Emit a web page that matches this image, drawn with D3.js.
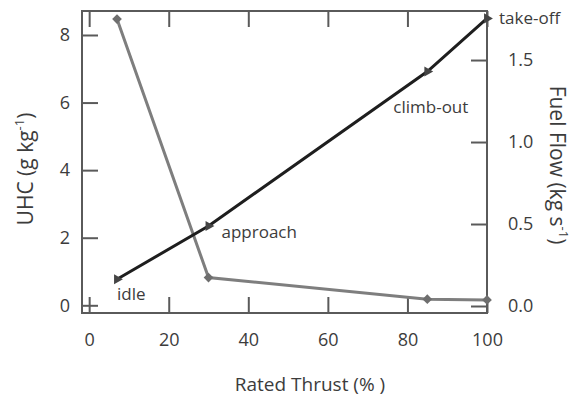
<!DOCTYPE html>
<html>
<head>
<meta charset="utf-8">
<script src="https://cdn.jsdelivr.net/npm/d3@7"></script>
<style>
  body { margin: 0; background: #fff; }
  text { font-family: "Open Sans", "Noto Sans", sans-serif; fill: #3c3c3c; }
</style>
</head>
<body>
<div id="chart"></div>
<script>
// engine operating modes (ICAO LTO cycle)
var phases = ["idle", "approach", "climb-out", "take-off"];
var thrust = [7, 30, 85, 100];          // rated thrust, %
var uhc = [8.47, 0.82, 0.18, 0.16];      // g/kg, left axis
var fuelFlow = [0.163, 0.488, 1.43, 1.754]; // kg/s, right axis

var xTicks = [0, 20, 40, 60, 80, 100];
var uhcTicks = [0, 2, 4, 6, 8];
var ffTicks = [0, 0.5, 1.0, 1.5];

var width = 572, height = 398;
// plot frame (note: "top" is reserved on window)
var plotL = 82, plotR = 487, plotT = 11, plotB = 313;

var svg = d3.select("#chart").append("svg")
  .attr("width", width)
  .attr("height", height);

var x = d3.scaleLinear().domain([-1.8, 100]).range([plotL, plotR]);
var yL = d3.scaleLinear().domain([-0.228, 8.71]).range([plotB, plotT]);
var yR = d3.scaleLinear().domain([-0.0427, 1.799]).range([plotB, plotT]);

var frameColor = "#5a5a5a";

// axes, ticks point into the plot
function styleAxis(g) {
  g.select(".domain").remove();
  g.selectAll(".tick line").attr("stroke", frameColor).attr("stroke-width", 2);
  g.selectAll(".tick text").style("font-size", "18px").attr("fill", "#3c3c3c");
}

svg.append("g")
  .attr("transform", "translate(0," + plotB + ")")
  .call(d3.axisBottom(x).tickValues(xTicks).tickSize(-16).tickPadding(20))
  .call(styleAxis);

svg.append("g")
  .attr("transform", "translate(0," + plotT + ")")
  .call(d3.axisTop(x).tickValues(xTicks).tickSize(-16).tickFormat(""))
  .call(styleAxis);

svg.append("g")
  .attr("transform", "translate(" + plotL + ",0)")
  .call(d3.axisLeft(yL).tickValues(uhcTicks).tickSize(-16).tickPadding(12))
  .call(styleAxis);

svg.append("g")
  .attr("transform", "translate(" + plotR + ",0)")
  .call(d3.axisRight(yR).tickValues(ffTicks).tickSize(-16).tickPadding(21)
    .tickFormat(d3.format(".1f")))
  .call(styleAxis);

// frame
svg.append("rect")
  .attr("x", plotL).attr("y", plotT)
  .attr("width", plotR - plotL).attr("height", plotB - plotT)
  .attr("fill", "none")
  .attr("stroke", frameColor)
  .attr("stroke-width", 2);

var idx = d3.range(phases.length);

// UHC line (grey)
svg.append("path")
  .datum(idx)
  .attr("fill", "none")
  .attr("stroke", "#7e7e7e")
  .attr("stroke-width", 3)
  .attr("d", d3.line().x(i => x(thrust[i])).y(i => yL(uhc[i])));

svg.append("g").selectAll("path")
  .data(idx)
  .enter().append("path")
  .attr("d", d3.symbol().type(d3.symbolDiamond2).size(60))
  .attr("transform", i => "translate(" + x(thrust[i]) + "," + yL(uhc[i]) + ")")
  .attr("fill", "#6e6e6e");

// fuel flow line (black)
svg.append("path")
  .datum(idx)
  .attr("fill", "none")
  .attr("stroke", "#1e1e1e")
  .attr("stroke-width", 3)
  .attr("d", d3.line().x(i => x(thrust[i])).y(i => yR(fuelFlow[i])));

svg.append("g").selectAll("path")
  .data(idx)
  .enter().append("path")
  .attr("d", d3.symbol().type(d3.symbolTriangle).size(45))
  .attr("transform", (i) => "translate(" + x(thrust[i]) + "," + yR(fuelFlow[i]) + ") rotate(" + (i == 3 ? 90 : 210) + ")")
  .attr("fill", "#444");

// mode labels, offset from the fuel flow point
var labelOffsets = [[0, 21], [13, 12], [-34, 41], [12, 6]];
svg.append("g").selectAll("text")
  .data(idx)
  .enter().append("text")
  .attr("x", i => x(thrust[i]) + labelOffsets[i][0])
  .attr("y", i => yR(fuelFlow[i]) + labelOffsets[i][1])
  .style("font-size", "17px")
  .text(i => phases[i]);

// axis titles
svg.append("text")
  .attr("x", 310).attr("y", 391)
  .attr("text-anchor", "middle")
  .style("font-size", "19px")
  .text("Rated Thrust (% )");

var lt = svg.append("text")
  .attr("transform", "translate(33,169) rotate(-90)")
  .attr("text-anchor", "middle")
  .style("font-size", "21px");
lt.append("tspan").text("UHC (g kg");
lt.append("tspan").attr("dy", -9).style("font-size", "13px").text("-1");
lt.append("tspan").attr("dy", 9).text(")");

var rt = svg.append("text")
  .attr("transform", "translate(550,165) rotate(90)")
  .attr("text-anchor", "middle")
  .style("font-size", "21px");
rt.append("tspan").text("Fuel Flow (kg s");
rt.append("tspan").attr("dy", -9).style("font-size", "13px").text("-1");
rt.append("tspan").attr("dy", 9).text(")");
</script>
</body>
</html>
